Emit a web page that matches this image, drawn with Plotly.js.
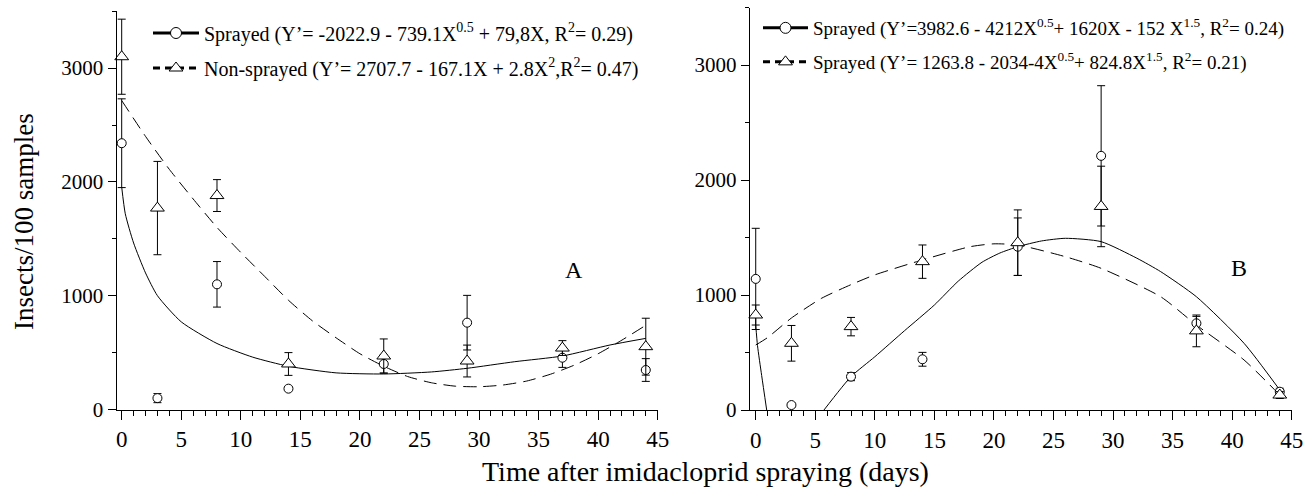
<!DOCTYPE html>
<html><head><meta charset="utf-8">
<script src="https://cdn.plot.ly/plotly-3.0.1.min.js"></script>
<style>html,body{margin:0;padding:0;background:#fff;}</style>
</head><body>
<div id="chart" style="width:1311px;height:489px;"></div>
<script>
// ---------- Panel A data ----------
const daysA = [0, 3, 8, 14, 22, 29, 37, 44];
const sprayedA = [2340, 100, 1100, 183, 400, 763, 455, 347];
const sprayedAErr = [390, 40, 200, 15, 80, 240, 85, 100];
const nonSprayedA = [3100, 1770, 1880, 400, 470, 426, 540, 552];
const nonSprayedAErr = [330, 410, 140, 100, 150, 140, 65, 250];
// fitted curves
const fitSprayedAX = [0, 0.3, 1, 2, 3, 5, 8, 11, 14, 18, 22, 26, 29, 33, 37, 41, 44];
const fitSprayedAY = [1955, 1720, 1463, 1200, 1000, 770, 580, 460, 380, 322, 312, 330, 362, 420, 470, 567, 625];
const fitNonSprayedAX = [0, 2, 4, 6, 8, 10, 12, 14, 16, 18, 20, 22, 24, 26, 28, 30, 32, 34, 36, 38, 40, 42, 44];
const fitNonSprayedAY = [2715, 2400, 2110, 1850, 1600, 1380, 1170, 960, 780, 630, 490, 380, 290, 235, 205, 200, 215, 250, 310, 390, 490, 610, 740];

// ---------- Panel B data ----------
const daysB = [0, 3, 8, 14, 22, 29, 37, 44];
const sprayedB = [1140, 43, 290, 441, 1420, 2210, 754, 159];
const sprayedBErr = [440, 15, 35, 60, 250, 610, 60, 30];
const nonSprayedB = [826, 580, 725, 1290, 1455, 1770, 688, 130];
const nonSprayedBErr = [87, 155, 80, 145, 285, 350, 138, 30];
const fitSprayedBX = [0, 0.15, 0.5, 0.92, null, 5.73, 8, 10, 12.5, 15, 17, 19, 20.5, 22, 24, 26, 29, 32, 34, 37, 41, 44];
const fitSprayedBY = [740, 560, 300, 0, null, 0, 290, 463, 690, 913, 1120, 1285, 1365, 1420, 1470, 1493, 1464, 1320, 1203, 985, 580, 174];
const fitNonSprayedBX = [0, 1, 3, 5.5, 8, 10, 14, 18, 20, 22, 26, 29, 34, 37, 41, 44];
const fitNonSprayedBY = [565, 630, 800, 970, 1090, 1175, 1305, 1420, 1445, 1435, 1333, 1232, 985, 739, 435, 130];

// ---------- Text ----------
const legendTexts = [
  'Sprayed (Y\u2019= -2022.9 - 739.1X<sup>0.5</sup> + 79,8X, R<sup>2</sup>= 0.29)',
  'Non-sprayed (Y\u2019= 2707.7 - 167.1X + 2.8X<sup>2</sup>,R<sup>2</sup>= 0.47)',
  'Sprayed (Y\u2019=3982.6 - 4212X<sup>0.5</sup>+ 1620X - 152 X<sup>1.5</sup>, R<sup>2</sup>= 0.24)',
  'Sprayed (Y\u2019= 1263.8 - 2034-4X<sup>0.5</sup>+ 824.8X<sup>1.5</sup>, R<sup>2</sup>= 0.21)'
];
const xTitle = 'Time after imidacloprid spraying (days)';
const yTitle = 'Insects/100 samples';
const panelLabels = ['A', 'B'];

const W = 1311, H = 489;
const FONT = '"Liberation Serif", "Times New Roman", serif';

const circleMarker = {symbol: 'circle', size: 9, color: 'white', line: {color: 'black', width: 1}};
const triMarker = {symbol: 'triangle-up', size: 12, color: 'white', line: {color: 'black', width: 1}};
function err(arr) { return {type: 'data', array: arr, visible: true, color: 'black', thickness: 1, width: 4}; }

const traces = [
  // curves
  {x: fitSprayedAX, y: fitSprayedAY, xaxis: 'x', yaxis: 'y', mode: 'lines', line: {color: 'black', width: 1, shape: 'spline', smoothing: 0.6}, showlegend: false, hoverinfo: 'skip'},
  {x: fitNonSprayedAX, y: fitNonSprayedAY, xaxis: 'x', yaxis: 'y', mode: 'lines', line: {color: 'black', width: 1, dash: '13px,7px', shape: 'spline', smoothing: 0.6}, showlegend: false, hoverinfo: 'skip'},
  {x: fitSprayedBX, y: fitSprayedBY, xaxis: 'x2', yaxis: 'y2', mode: 'lines', connectgaps: false, line: {color: 'black', width: 1, shape: 'spline', smoothing: 0.6}, showlegend: false, hoverinfo: 'skip'},
  {x: fitNonSprayedBX, y: fitNonSprayedBY, xaxis: 'x2', yaxis: 'y2', mode: 'lines', line: {color: 'black', width: 1, dash: '13px,7px', shape: 'spline', smoothing: 0.6}, showlegend: false, hoverinfo: 'skip'},
  // points
  {x: daysA, y: sprayedA, error_y: err(sprayedAErr), xaxis: 'x', yaxis: 'y', mode: 'markers', marker: circleMarker, showlegend: false, cliponaxis: false},
  {x: daysA, y: nonSprayedA, error_y: err(nonSprayedAErr), xaxis: 'x', yaxis: 'y', mode: 'markers', marker: triMarker, showlegend: false, cliponaxis: false},
  {x: daysB, y: sprayedB, error_y: err(sprayedBErr), xaxis: 'x2', yaxis: 'y2', mode: 'markers', marker: circleMarker, showlegend: false, cliponaxis: false},
  {x: daysB, y: nonSprayedB, error_y: err(nonSprayedBErr), xaxis: 'x2', yaxis: 'y2', mode: 'markers', marker: triMarker, showlegend: false, cliponaxis: false},
  // legend entries
  {x: [null], y: [null], xaxis: 'x', yaxis: 'y', name: legendTexts[0], legend: 'legend', mode: 'lines+markers', line: {color: 'black', width: 3}, marker: {symbol: 'circle', size: 11, color: 'white', line: {color: 'black', width: 1}}},
  {x: [null], y: [null], xaxis: 'x', yaxis: 'y', name: legendTexts[1], legend: 'legend2', mode: 'lines+markers', line: {color: 'black', width: 3, dash: '7px,5px'}, marker: {symbol: 'triangle-up', size: 12, color: 'white', line: {color: 'black', width: 1}}},
  {x: [null], y: [null], xaxis: 'x2', yaxis: 'y2', name: legendTexts[2], legend: 'legend3', mode: 'lines+markers', line: {color: 'black', width: 3}, marker: {symbol: 'circle', size: 11, color: 'white', line: {color: 'black', width: 1}}},
  {x: [null], y: [null], xaxis: 'x2', yaxis: 'y2', name: legendTexts[3], legend: 'legend4', mode: 'lines+markers', line: {color: 'black', width: 3, dash: '7px,5px'}, marker: {symbol: 'triangle-up', size: 12, color: 'white', line: {color: 'black', width: 1}}}
];

function xAxis(domain, range, anchor) {
  return {domain: domain, range: range, anchor: anchor, tickmode: 'linear', tick0: 0, dtick: 5,
    ticks: 'outside', ticklen: 9, tickwidth: 1, tickcolor: 'black',
    showline: true, linecolor: 'black', linewidth: 1.2, showgrid: false, zeroline: false,
    tickfont: {size: 23, family: FONT, color: 'black'}, automargin: false, fixedrange: true,
    minor: {tick0: 0, dtick: 1, ticks: 'outside', ticklen: 5, tickwidth: 1, tickcolor: 'black', showgrid: false}};
}
function yAxis(domain, anchor) {
  return {domain: domain, range: [0, 3500], anchor: anchor, tickmode: 'linear', tick0: 0, dtick: 1000,
    ticks: 'outside', ticklen: 8, tickwidth: 1, tickcolor: 'black',
    showline: true, linecolor: 'black', linewidth: 1.2, showgrid: false, zeroline: false,
    tickfont: {size: 21, family: FONT, color: 'black'}, automargin: false, fixedrange: true,
    minor: {tick0: 0, dtick: 500, ticks: 'outside', ticklen: 4, tickwidth: 1, tickcolor: 'black', showgrid: false}};
}
function legendAt(xpx, ypx, iw, fs) {
  return {x: xpx / W, y: 1 - ypx / H, xanchor: 'left', yanchor: 'middle', bgcolor: 'rgba(0,0,0,0)',
    borderwidth: 0, font: {size: fs, family: FONT, color: 'black'}, itemwidth: iw, itemclick: false, itemdoubleclick: false};
}

const layout = {
  width: W, height: H, margin: {l: 0, r: 0, t: 0, b: 0}, autosize: false,
  paper_bgcolor: 'white', plot_bgcolor: 'white', showlegend: true,
  font: {family: FONT, color: 'black'},
  xaxis: xAxis([116.7 / W, 657.7 / W], [-0.42, 45], 'y'),
  yaxis: yAxis([1 - 409.5 / H, 1 - 11.2 / H], 'x'),
  xaxis2: xAxis([750 / W, 1291.7 / W], [-0.48, 45], 'y2'),
  yaxis2: yAxis([1 - 410 / H, 1 - 7.5 / H], 'x2'),
  legend: legendAt(148, 33, 46, 20),
  legend2: legendAt(148, 68, 46, 20),
  legend3: legendAt(758, 28, 45, 19),
  legend4: legendAt(758, 62, 45, 19),
  annotations: [
    {xref: 'x', yref: 'y', x: 38, y: 1230, text: panelLabels[0], showarrow: false, font: {size: 24, family: FONT, color: 'black'}},
    {xref: 'x2', yref: 'y2', x: 40.6, y: 1235, text: panelLabels[1], showarrow: false, font: {size: 24, family: FONT, color: 'black'}},
    {xref: 'paper', yref: 'paper', x: 705 / W, y: 1 - 471 / H, xanchor: 'center', yanchor: 'middle', text: xTitle, showarrow: false, font: {size: 28, family: FONT, color: 'black'}},
    {xref: 'paper', yref: 'paper', x: 24 / W, y: 1 - 222 / H, xanchor: 'center', yanchor: 'middle', text: yTitle, textangle: -90, showarrow: false, font: {size: 27, family: FONT, color: 'black'}}
  ]
};

Plotly.newPlot('chart', traces, layout, {displayModeBar: false, staticPlot: true});
</script>
</body></html>
